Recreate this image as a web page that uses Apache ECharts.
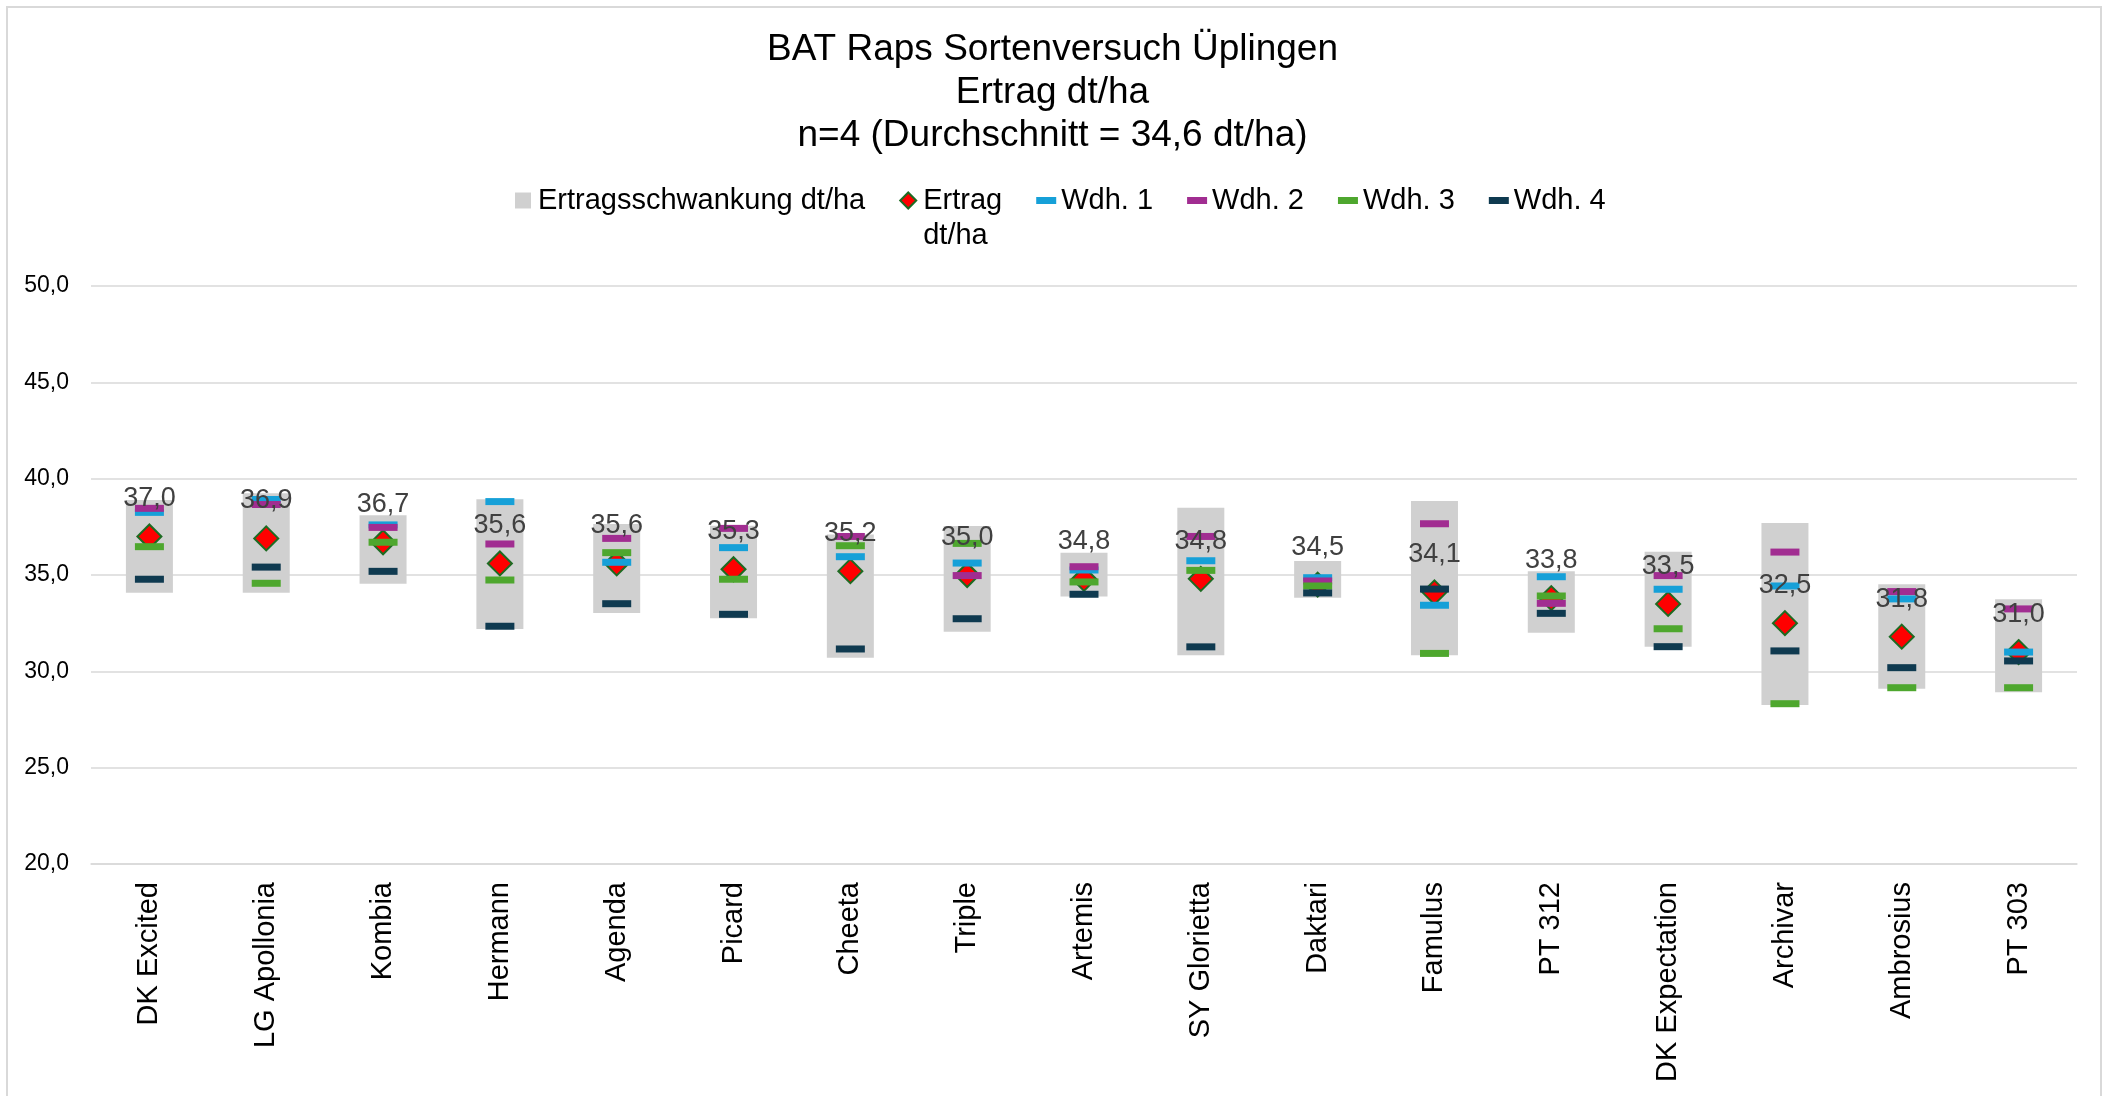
<!DOCTYPE html>
<html>
<head>
<meta charset="utf-8">
<script src="https://cdn.jsdelivr.net/npm/echarts@6/dist/echarts.min.js"></script>
<style>
  html, body { margin: 0; padding: 0; background: #fff; }
  #main { width: 2105px; height: 1096px; }
</style>
</head>
<body>
<div id="main"></div>
<script>
const FONT = '"Liberation Sans", Arial, sans-serif';

// Sorten
const categories = ['DK Excited', 'LG Apollonia', 'Kombia', 'Hermann', 'Agenda', 'Picard', 'Cheeta', 'Triple',
    'Artemis', 'SY Glorietta', 'Daktari', 'Famulus', 'PT 312', 'DK Expectation', 'Archivar', 'Ambrosius', 'PT 303'];

// Mittelwert Ertrag dt/ha
const ertrag = [37.0, 36.9, 36.7, 35.6, 35.6, 35.3, 35.2, 35.0, 34.8, 34.8, 34.5, 34.1, 33.8, 33.5, 32.5, 31.8, 31.0];

// Wiederholungen
const wdh1 = [38.25, 38.92, 37.6, 38.81, 35.66, 36.42, 35.95, 35.62, 35.26, 35.74, 34.86, 33.43, 34.91, 34.26, 34.43, 33.76, 31.0];
const wdh2 = [38.46, 38.66, 37.47, 36.61, 36.9, 37.42, 37.0, 34.97, 35.43, 37.0, 34.69, 37.66, 33.53, 34.97, 36.19, 34.14, 33.24];
const wdh3 = [36.47, 34.57, 36.7, 34.74, 36.16, 34.78, 36.52, 36.64, 34.64, 35.24, 34.43, 30.93, 33.91, 32.21, 28.32, 29.15, 29.15];
const wdh4 = [34.78, 35.41, 35.19, 32.34, 33.51, 32.96, 31.16, 32.73, 34.0, 31.27, 34.07, 34.27, 33.01, 31.28, 31.06, 30.19, 30.54];

// Ertragsschwankung (grauer Balken) von - bis
const boxLow = [34.08, 34.08, 34.55, 32.2, 33.03, 32.75, 30.71, 32.06, 33.88, 30.83, 33.82, 30.83, 32.0, 31.28, 28.25, 29.1, 28.91];
const boxHigh = [38.89, 39.24, 38.1, 38.93, 37.65, 37.56, 37.1, 37.54, 36.16, 38.49, 35.73, 38.84, 35.2, 36.21, 37.7, 34.52, 33.74];

const comma = v => v.toFixed(1).replace('.', ',');
const dashIcon = 'path://M0,0h20v7h-20z';

let myChart = echarts.init(document.getElementById('main'));

function dash(name, data, color) {
    return {
        name: name,
        type: 'scatter',
        symbol: 'rect',
        symbolSize: [29, 7],
        itemStyle: { color: color, opacity: 1 },
        data: data
    };
}

let opt = {
    backgroundColor: '#fff',
    animation: false,
    textStyle: { fontFamily: FONT },
    title: {
        text: 'BAT Raps Sortenversuch Üplingen\nErtrag dt/ha\nn=4 (Durchschnitt = 34,6 dt/ha)',
        left: 'center',
        top: 28,
        padding: 0,
        textStyle: { fontSize: 37, fontWeight: 'normal', color: '#000', lineHeight: 43, fontFamily: FONT }
    },
    legend: {
        left: 515,
        top: 148,
        padding: 0,
        itemGap: 34,
        itemWidth: 20,
        itemHeight: 16,
        symbolKeepAspect: true,
        selectedMode: false,
        textStyle: { fontSize: 29, color: '#000', lineHeight: 35, fontFamily: FONT },
        // leere erste Zeile, damit "Ertrag" auf Höhe der anderen Einträge steht
        formatter: n => n === 'Ertrag dt/ha' ? '\u00a0\nErtrag\ndt/ha' : n,
        data: [
            { name: 'Ertragsschwankung dt/ha', icon: 'path://M0,0h10v10h-10z' },
            { name: 'Ertrag dt/ha', icon: 'path://M5,0L10,5L5,10L0,5Z' },
            { name: 'Wdh. 1', icon: dashIcon },
            { name: 'Wdh. 2', icon: dashIcon },
            { name: 'Wdh. 3', icon: dashIcon },
            { name: 'Wdh. 4', icon: dashIcon }
        ]
    },
    grid: { left: 91, right: 28, top: 286, bottom: 232, containLabel: false },
    xAxis: {
        type: 'category',
        data: categories,
        axisLine: { show: true, lineStyle: { color: '#d9d9d9', width: 1.5 } },
        axisTick: { show: false },
        axisLabel: { rotate: 90, fontSize: 29, color: '#000', margin: 18, fontFamily: FONT, interval: 0 }
    },
    yAxis: {
        type: 'value',
        min: 20,
        max: 50,
        interval: 5,
        axisLine: { show: false },
        axisTick: { show: false },
        splitLine: { lineStyle: { color: '#d9d9d9', width: 1.5 } },
        axisLabel: { fontSize: 23, color: '#000', margin: 22, fontFamily: FONT, formatter: v => comma(v) }
    },
    graphic: [{
        type: 'rect',
        z: -10,
        shape: { x: 7, y: 7, width: 2094, height: 1100 },
        style: { fill: null, stroke: '#d9d9d9', lineWidth: 2 }
    }],
    series: [
        {
            name: 'base',
            type: 'bar',
            stack: 'box',
            barWidth: 47,
            silent: true,
            itemStyle: { color: 'transparent' },
            data: boxLow
        },
        {
            name: 'Ertragsschwankung dt/ha',
            type: 'bar',
            stack: 'box',
            barWidth: 47,
            itemStyle: { color: '#d0d0d0' },
            data: boxHigh.map((h, i) => +(h - boxLow[i]).toFixed(2))
        },
        {
            name: 'Ertrag dt/ha',
            type: 'scatter',
            symbol: 'diamond',
            symbolSize: 24,
            itemStyle: { color: '#ff0000', borderColor: '#1d6b22', borderWidth: 2, opacity: 1 },
            label: {
                show: true,
                position: 'top',
                distance: 11,
                fontSize: 27,
                color: '#404040',
                fontFamily: FONT,
                formatter: p => comma(p.value)
            },
            data: ertrag
        },
        dash('Wdh. 1', wdh1, '#16a0d8'),
        dash('Wdh. 2', wdh2, '#a12d91'),
        dash('Wdh. 3', wdh3, '#4ea72e'),
        dash('Wdh. 4', wdh4, '#0f3a50')
    ]
};

myChart.setOption(opt);
</script>
</body>
</html>
